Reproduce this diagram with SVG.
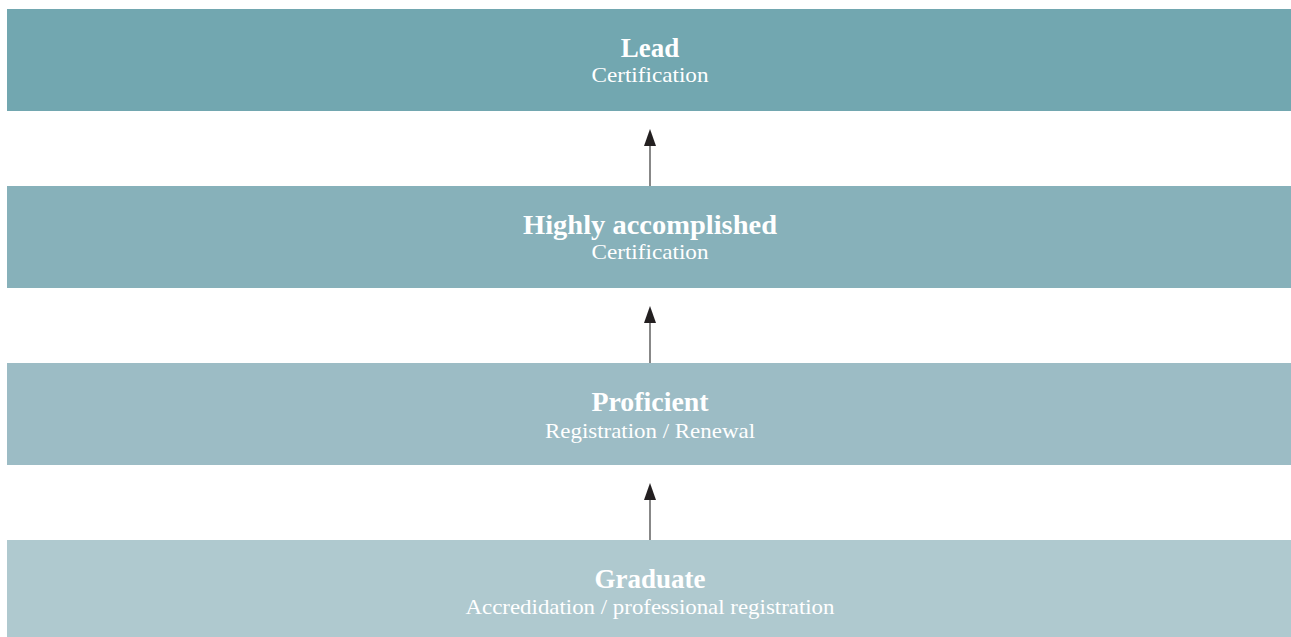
<svg xmlns="http://www.w3.org/2000/svg" width="1291" height="637" viewBox="0 0 1291 637">
<style>
.t{font-family:"Liberation Serif","Times New Roman",serif;font-weight:bold;font-size:27px;fill:#ffffff;text-anchor:middle}
.s{font-family:"Liberation Serif","Times New Roman",serif;font-size:22px;fill:#ffffff;text-anchor:middle}
.c{stroke:#555555;stroke-width:1.4;fill:none}
.h{fill:#231f20}
</style>
<rect width="1291" height="637" fill="#ffffff"/>
<g id="lead">
<rect x="7" y="9" width="1284" height="102" fill="#72a7b0"/>
<text class="t" x="650" y="57">Lead</text>
<text class="s" x="650" y="82" textLength="117" lengthAdjust="spacingAndGlyphs">Certification</text>
</g>
<g id="highly">
<rect x="7" y="186" width="1284" height="102" fill="#87b1ba"/>
<text class="t" x="650" y="234" textLength="254" lengthAdjust="spacingAndGlyphs">Highly accomplished</text>
<text class="s" x="650" y="259" textLength="117" lengthAdjust="spacingAndGlyphs">Certification</text>
</g>
<g id="proficient">
<rect x="7" y="363" width="1284" height="102" fill="#9cbcc5"/>
<text class="t" x="650" y="411" textLength="117" lengthAdjust="spacingAndGlyphs">Proficient</text>
<text class="s" x="650" y="438" textLength="210" lengthAdjust="spacingAndGlyphs">Registration / Renewal</text>
</g>
<g id="graduate">
<rect x="7" y="540" width="1284" height="102" fill="#afc9cf"/>
<text class="t" x="650" y="588">Graduate</text>
<text class="s" x="650" y="614" textLength="369" lengthAdjust="spacingAndGlyphs">Accredidation / professional registration</text>
</g>
<g id="connectors">
<line class="c" x1="650" y1="186" x2="650" y2="144"/>
<polygon class="h" points="650,129 644,146 656,146"/>
<line class="c" x1="650" y1="363" x2="650" y2="321"/>
<polygon class="h" points="650,306 644,323 656,323"/>
<line class="c" x1="650" y1="540" x2="650" y2="498"/>
<polygon class="h" points="650,483 644,500 656,500"/>
</g>
</svg>
